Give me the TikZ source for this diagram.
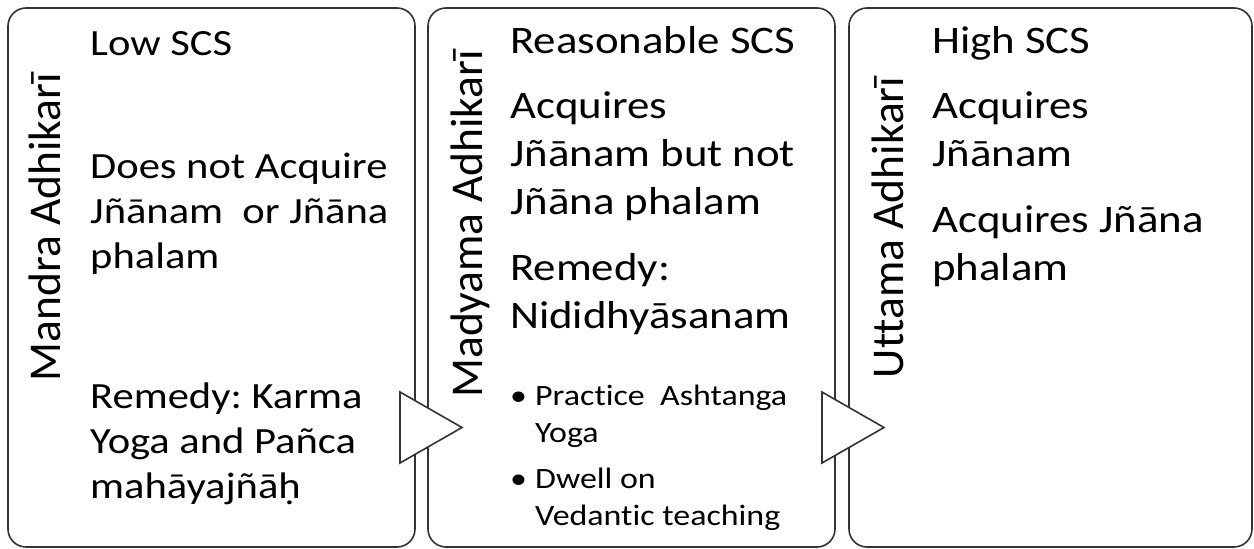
\documentclass[tikz,border=0pt]{standalone}
\usepackage{fontspec}
\setmainfont{Carlito}[FakeStretch=1.15, Ligatures=CommonOff]
\newfontfamily\labelfont{Carlito}[Ligatures=CommonOff]
\frenchspacing
\tikzset{
  panel/.style={draw=black!80, line width=1.6pt, rounded corners=18pt, fill=white},
  chevron/.style={draw=black!80, line width=1.6pt, fill=white, line join=miter},
  vlabel/.style={rotate=90, anchor=base, inner sep=0pt, font=\labelfont\fontsize{45.5}{50}\selectfont},
  body/.style={anchor=base west, inner sep=0pt, align=left, font=\fontsize{39}{48}\selectfont},
  small/.style={anchor=base west, inner sep=0pt, align=left, font=\fontsize{37}{45}\selectfont},
  bullet/.style={anchor=base west, inner sep=0pt, align=left, font=\fontsize{29.5}{37}\selectfont},
}
\begin{document}
\begin{tikzpicture}[x=1pt,y=-1pt]
\useasboundingbox (0,0) rectangle (1254,549);

% the three panels
\node[panel, minimum width=407pt, minimum height=539pt] (mandra) at (211.5,277.5) {};
\node[panel, minimum width=407pt, minimum height=539pt] (madyama) at (631.5,277.5) {};
\node[panel, minimum width=403pt, minimum height=539pt] (uttama) at (1050.5,277.5) {};

% chevrons
\draw[chevron] (400,392) -- (462,427.5) -- (400,463) -- cycle;
\draw[chevron] (822,392) -- (884,427.5) -- (822,463) -- cycle;

% side labels
\node[vlabel] (lblmandra) at (60,227) {Mandra Adhikarī};
\node[vlabel] (lblmadyama) at (482,224) {Madyama Adhikarī};
\node[vlabel] (lbluttama) at (903,227.5) {Uttama Adhikarī};

% first panel (anchored at the last baseline)
\node[small] (lowscs) at (90,55) {Low SCS};
\node[small] (noacq) at (90,268) {Does not Acquire\\Jñānam~ or Jñāna\\phalam};
\node[small] (remkarma) at (90,498) {Remedy: Karma\\Yoga and Pañca\\mahāyajñāḥ};

% second panel
\node[body] (reascs) at (510,53) {Reasonable SCS};
\node[body] (acqbut) at (510,214) {Acquires\\Jñānam but not\\Jñāna phalam};
\node[body] (remnid) at (510,328) {Remedy:\\Nididhyāsanam};
\node[bullet] (dot1) at (510,405) {•};
\node[bullet] (ashtanga) at (535,442) {Practice~ Ashtanga\\Yoga};
\node[bullet] (dot2) at (510,488) {•};
\node[bullet] (dwell) at (535,525) {Dwell on\\Vedantic teaching};

% third panel
\node[body] (highscs) at (932,53) {High SCS};
\node[body] (acqjn) at (932,166) {Acquires\\Jñānam};
\node[body] (acqphal) at (932,280) {Acquires Jñāna\\phalam};

\end{tikzpicture}
\end{document}
